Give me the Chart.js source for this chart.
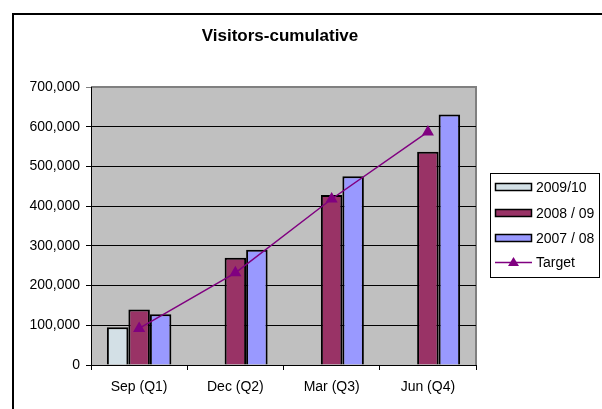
<!DOCTYPE html>
<html>
<head>
<meta charset="utf-8">
<script src="https://cdn.jsdelivr.net/npm/chart.js@4.4.1/dist/chart.umd.min.js"></script>
<style>
html,body{margin:0;padding:0;background:#fff;overflow:hidden;}
#wrap{position:absolute;left:0;top:0;width:602px;height:409px;}
canvas{display:block;}
</style>
</head>
<body>
<div id="wrap"><canvas id="c" width="602" height="409"></canvas></div>
<script>
const categories = ['Sep (Q1)', 'Dec (Q2)', 'Mar (Q3)', 'Jun (Q4)'];
const series2009 = [95000, null, null, null];
const series2008 = [140000, 270000, 428000, 537000];
const series2007 = [128000, 290000, 475000, 631000];
const target = [92000, 232000, 418000, 587000];
const seriesNames = ['2009/10', '2008 / 09', '2007 / 08', 'Target'];
const chartTitle = 'Visitors-cumulative';

const FONT = "'Liberation Sans', Arial, sans-serif";
const colors = ['#D3E0E6', '#993366', '#9999FF', '#800080'];

const decor = {
  id: 'decor',
  beforeDraw(chart) {
    const ctx = chart.ctx, a = chart.chartArea;
    ctx.save();
    ctx.fillStyle = '#fff';
    ctx.fillRect(0, 0, chart.width, chart.height);
    ctx.fillStyle = '#000';
    ctx.fillRect(12, 13, 2, chart.height - 13);
    ctx.fillRect(12, 13, chart.width - 12, 2);
    ctx.fillStyle = '#C0C0C0';
    ctx.fillRect(a.left, a.top, a.right - a.left, a.bottom - a.top);
    ctx.strokeStyle = '#808080';
    ctx.lineWidth = 2;
    ctx.beginPath();
    ctx.moveTo(a.left, a.top);
    ctx.lineTo(a.right, a.top);
    ctx.lineTo(a.right, a.bottom);
    ctx.stroke();
    ctx.fillStyle = '#000';
    ctx.font = 'bold 17px ' + FONT;
    ctx.textAlign = 'center';
    ctx.textBaseline = 'middle';
    ctx.fillText(chartTitle, 280, 36);
    ctx.restore();
  },
  afterDraw(chart) {
    const ctx = chart.ctx;
    ctx.save();
    ctx.strokeStyle = '#000';
    ctx.lineWidth = 1;
    ctx.strokeRect(490.5, 173.5, 109, 104);
    const rows = [187, 213, 238, 262];
    ctx.font = '14px ' + FONT;
    ctx.textBaseline = 'middle';
    ctx.textAlign = 'left';
    for (let i = 0; i < 4; i++) {
      const y = rows[i];
      if (i < 3) {
        ctx.fillStyle = colors[i];
        ctx.fillRect(495, y - 3.5, 36, 7);
        ctx.strokeStyle = '#000';
        ctx.lineWidth = 1.5;
        ctx.strokeRect(495.5, y - 3.5, 36, 7);
      } else {
        ctx.strokeStyle = colors[3];
        ctx.lineWidth = 1.5;
        ctx.beginPath();
        ctx.moveTo(495, y + 0.5);
        ctx.lineTo(532, y + 0.5);
        ctx.stroke();
        ctx.fillStyle = colors[3];
        ctx.beginPath();
        ctx.moveTo(513.5, y - 5);
        ctx.lineTo(519, y + 4);
        ctx.lineTo(508, y + 4);
        ctx.closePath();
        ctx.fill();
      }
      ctx.fillStyle = '#000';
      ctx.fillText(seriesNames[i], 536, y + 1);
    }
    ctx.restore();
  }
};

new Chart(document.getElementById('c'), {
  type: 'bar',
  data: {
    labels: categories,
    datasets: [
      { label: seriesNames[0], data: series2009, backgroundColor: colors[0], borderColor: '#000', borderWidth: 2, order: 1 },
      { label: seriesNames[1], data: series2008, backgroundColor: colors[1], borderColor: '#000', borderWidth: 2, order: 1 },
      { label: seriesNames[2], data: series2007, backgroundColor: colors[2], borderColor: '#000', borderWidth: 2, order: 1 },
      { type: 'line', label: seriesNames[3], data: target, borderColor: colors[3], backgroundColor: colors[3],
        borderWidth: 1.5, pointStyle: 'triangle', pointRadius: 5.5, pointBackgroundColor: colors[3],
        pointBorderColor: colors[3], tension: 0, order: 0 }
    ]
  },
  options: {
    responsive: false,
    animation: false,
    devicePixelRatio: 1,
    layout: { padding: { top: 87, right: 126, bottom: 0, left: 0 } },
    datasets: { bar: { categoryPercentage: 0.67, barPercentage: 1.0 } },
    plugins: { legend: { display: false }, title: { display: false }, tooltip: { enabled: false } },
    scales: {
      x: {
        afterFit(s) { s.height = 44; },
        grid: { display: true, drawOnChartArea: false, drawTicks: true, tickLength: 5, color: '#000', offset: true },
        border: { color: '#000', width: 1 },
        ticks: { color: '#000', font: { family: FONT, size: 14 }, padding: 9, maxRotation: 0 }
      },
      y: {
        min: 0, max: 700000,
        afterFit(s) { s.width = 91; },
        grid: { drawTicks: true, tickLength: 5, color: (c) => (c.tick && c.tick.value === 700000 ? '#808080' : '#000') },
        border: { color: '#000', width: 1 },
        ticks: { stepSize: 100000, color: '#000', font: { family: FONT, size: 14 }, padding: 6,
          callback: (v) => v.toLocaleString('en-US') }
      }
    }
  },
  plugins: [decor]
});
</script>
</body>
</html>
